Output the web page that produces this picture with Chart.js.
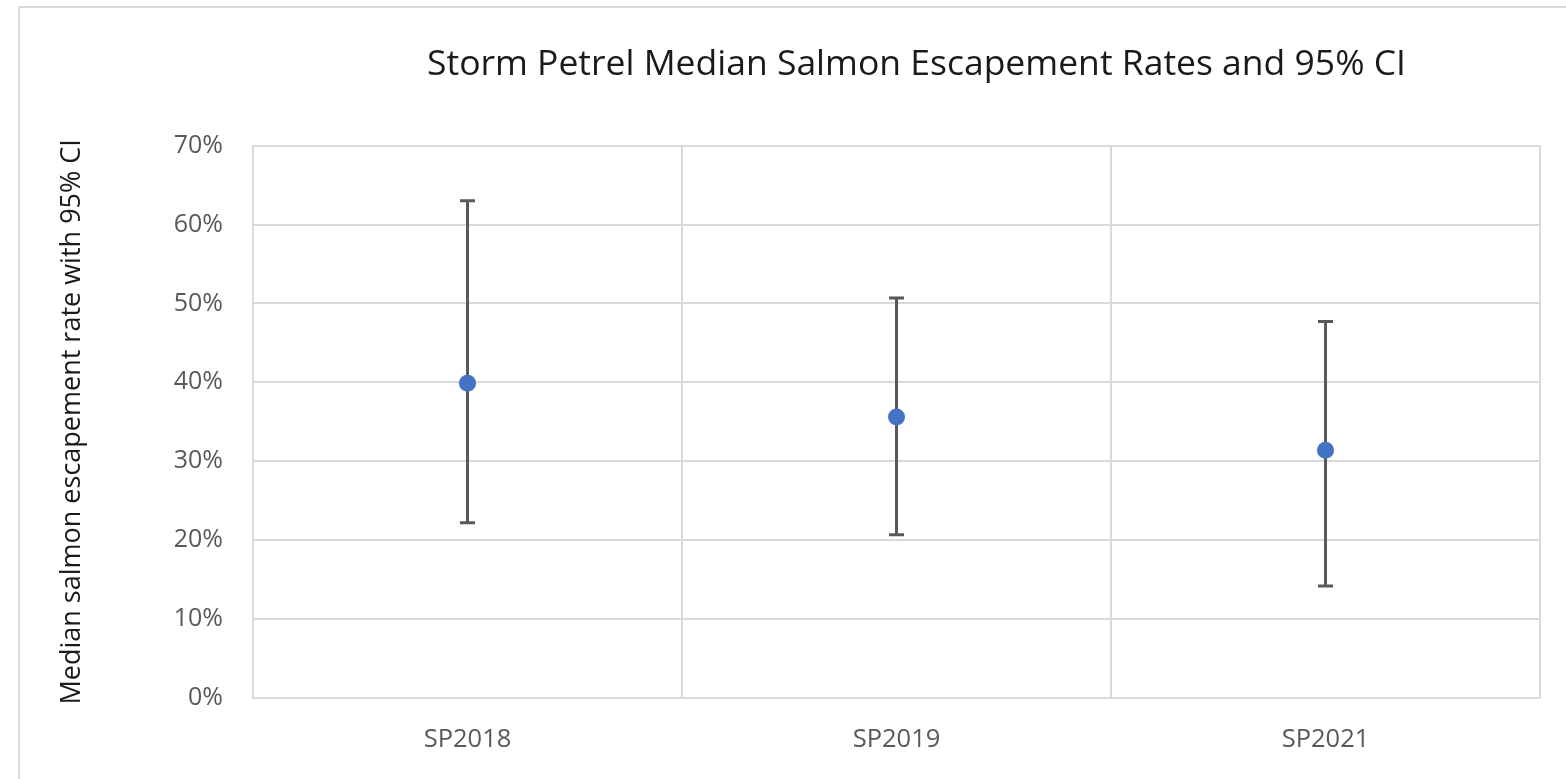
<!DOCTYPE html>
<html lang="en">
<head>
  <meta charset="UTF-8">
  <title>Storm Petrel Median Salmon Escapement Rates</title>
  <script src="https://cdn.jsdelivr.net/npm/chart.js"></script>
  <style>
    html, body { margin: 0; padding: 0; background: #fff; }
    #wrap { position: relative; width: 1566px; height: 779px; overflow: hidden; }
    #frame { position: absolute; left: 18px; top: 6px; width: 1600px; height: 800px; border: 2px solid #d9d9d9; box-sizing: border-box; }
    #chartBox { position: absolute; left: 0; top: 0; width: 1566px; height: 779px; }
  </style>
</head>
<body>
  <div id="wrap">
    <div id="frame"></div>
    <div id="chartBox"><canvas id="ciChart"></canvas></div>
  </div>

  <script>
    // data (percent)
    const categories = ['SP2018', 'SP2019', 'SP2021'];
    const medians = [39.9, 35.6, 31.4];
    const lowerCI = [22.2, 20.7, 14.2];
    const upperCI = [63.0, 50.7, 47.7];
    const yTicks = [0, 10, 20, 30, 40, 50, 60, 70];

    // draws the CI whiskers under the points, using the chart's scales
    const errorBars = {
      id: 'errorBars',
      afterLayout(chart) {
        // title sits a bit right of the plot centre in the original
        const t = chart.titleBlock;
        if (t) { t.left += 40; t.width -= 40; }
      },
      beforeDatasetsDraw(chart) {
        const x = chart.scales.x, y = chart.scales.y, ctx = chart.ctx;
        ctx.save();
        ctx.strokeStyle = '#595959';
        ctx.lineWidth = 3;
        categories.forEach((c, i) => {
          const px = x.getPixelForValue(i);
          const top = y.getPixelForValue(upperCI[i]);
          const bot = y.getPixelForValue(lowerCI[i]);
          ctx.beginPath();
          ctx.moveTo(px, top); ctx.lineTo(px, bot);
          ctx.moveTo(px - 7.5, top); ctx.lineTo(px + 7.5, top);
          ctx.moveTo(px - 7.5, bot); ctx.lineTo(px + 7.5, bot);
          ctx.stroke();
        });
        ctx.restore();
      }
    };

    let ctx = document.getElementById('ciChart').getContext('2d');
    let chart = new Chart(ctx, {
      type: 'line',
      data: {
        labels: categories,
        datasets: [{
          label: 'Median',
          data: medians,
          showLine: false,
          pointRadius: 8.5,
          pointBackgroundColor: '#4472C4',
          pointBorderColor: '#4472C4',
          pointBorderWidth: 0
        }]
      },
      options: {
        responsive: true,
        maintainAspectRatio: false,
        animation: false,
        layout: { padding: { left: 18, right: 26, top: 6, bottom: 0 } },
        plugins: {
          legend: { display: false },
          tooltip: { enabled: false },
          title: {
            display: true,
            fullSize: false,
            text: 'Storm Petrel Median Salmon Escapement Rates and 95% CI',
            color: '#1a1a1a',
            font: { family: 'Open Sans', size: 35.5, weight: 'normal' },
            padding: { top: 38, bottom: 59 }
          }
        },
        scales: {
          x: {
            offset: true,
            grid: { offset: true, color: '#d9d9d9', lineWidth: 2, drawTicks: false },
            border: { display: false },
            ticks: { color: '#595959', padding: 26, font: { family: 'Open Sans', size: 25.5 } },
            afterFit(s) { s.height = 81; }
          },
          y: {
            min: 0,
            max: 70,
            afterBuildTicks(s) { s.ticks = yTicks.map(v => ({ value: v })); },
            grid: { color: '#d9d9d9', lineWidth: 2, drawTicks: false },
            border: { color: '#d9d9d9', width: 2 },
            ticks: {
              color: '#595959',
              padding: 30,
              font: { family: 'Open Sans', size: 25 },
              callback: v => v + '%'
            },
            title: {
              display: true,
              text: 'Median salmon escapement rate with 95% CI',
              color: '#1a1a1a',
              font: { family: 'Open Sans', size: 27 },
              padding: { top: 38, bottom: 0 }
            },
            afterFit(s) { s.width = 235; }
          }
        }
      },
      plugins: [errorBars]
    });
  </script>
</body>
</html>
